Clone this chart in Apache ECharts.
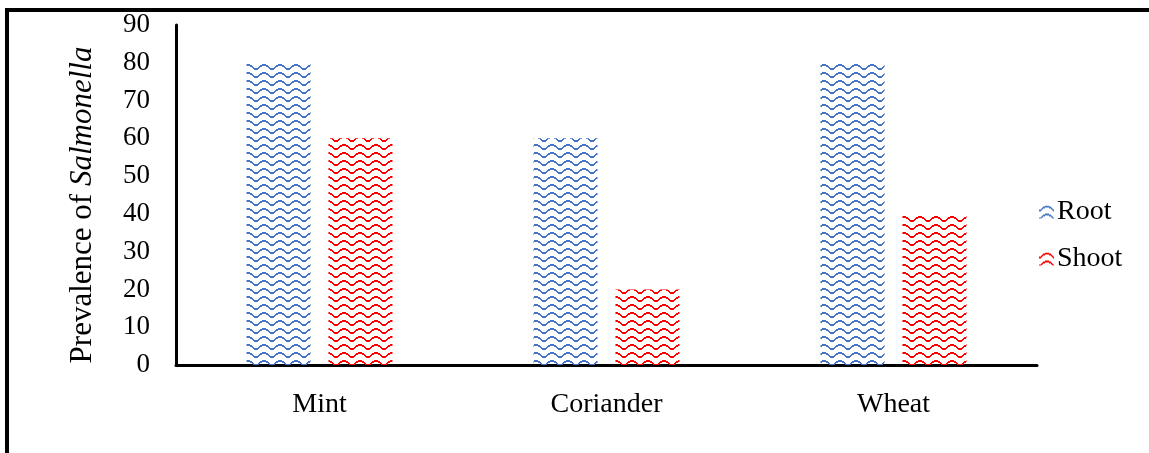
<!DOCTYPE html>
<html>
<head>
<meta charset="utf-8">
<script src="https://cdn.jsdelivr.net/npm/echarts@6/dist/echarts.min.js"></script>
<style>
  html, body { margin: 0; padding: 0; background: #fff; }
  #chart { width: 1149px; height: 453px; }
</style>
</head>
<body>
<div id="chart"></div>
<script>
// Crops and the share of samples testing positive
const categories = ['Mint', 'Coriander', 'Wheat'];
const rootValues = [80, 60, 80];
const shootValues = [60, 20, 40];
const seriesNames = ['Root', 'Shoot'];
const yTicks = { min: 0, max: 90, interval: 10 };

const FONT = '"Liberation Serif", "Times New Roman", serif';

// Wave hatch, one 16x8 px tile: [x, y, w, h] blocks of a stepped wave
const WAVE_STEPS = [
  [6, 0, 4, 2], [4, 1, 2, 2], [10, 1, 2, 2], [3, 2, 1, 2], [12, 2, 1, 2],
  [2, 3, 1, 2], [13, 3, 1, 2], [14, 4, 2, 2], [0, 4, 2, 2]
];
function wavePattern(color) {
  const c = document.createElement('canvas');
  c.width = 16; c.height = 8;
  const g = c.getContext('2d');
  g.fillStyle = color;
  WAVE_STEPS.forEach(([x, y, w, h]) => g.fillRect(x, y, w, h));
  return { image: c, repeat: 'repeat' };
}

const blue = wavePattern('#4472C4');
const red = wavePattern('#FF0000');

const chart = echarts.init(document.getElementById('chart'), null, { renderer: 'canvas' });

chart.setOption({
  animation: false,
  backgroundColor: '#fff',
  grid: { left: 176, right: 112, top: 25, bottom: 88 },
  legend: {
    orient: 'vertical',
    left: 1034,
    top: 193,
    itemWidth: 15,
    itemHeight: 13,
    itemGap: 19,
    icon: 'rect',
    textStyle: { fontFamily: FONT, fontSize: 28, color: '#000', padding: [0, 0, 0, -2] },
    data: seriesNames
  },
  xAxis: {
    type: 'category',
    data: categories,
    axisLine: { lineStyle: { color: '#000', width: 3 } },
    axisTick: { show: false },
    axisLabel: { fontFamily: FONT, fontSize: 28, color: '#000', margin: 26 }
  },
  yAxis: {
    type: 'value',
    min: yTicks.min,
    max: yTicks.max,
    interval: yTicks.interval,
    splitLine: { show: false },
    axisLine: { show: true, lineStyle: { color: '#000', width: 3 } },
    axisTick: { show: false },
    axisLabel: { fontFamily: FONT, fontSize: 27, color: '#000', margin: 26 }
  },
  series: [
    {
      name: seriesNames[0], type: 'bar', data: rootValues,
      barWidth: 64, barGap: '28%',
      itemStyle: { color: blue }
    },
    {
      name: seriesNames[1], type: 'bar', data: shootValues,
      barWidth: 64,
      itemStyle: { color: red }
    }
  ],
  graphic: [
    // frame edges
    { type: 'rect', shape: { x: 5, y: 8, width: 1200, height: 4 }, style: { fill: '#000' }, silent: true },
    { type: 'rect', shape: { x: 5, y: 8, width: 4, height: 500 }, style: { fill: '#000' }, silent: true },
    // y-axis title
    {
      type: 'text',
      x: 83, y: 205,
      rotation: Math.PI / 2,
      style: {
        text: '{a|Prevalence of }{b|Salmonella}',
        align: 'center',
        verticalAlign: 'middle',
        rich: {
          a: { fontFamily: FONT, fontSize: 31, fill: '#000' },
          b: { fontFamily: FONT, fontSize: 31, fontStyle: 'italic', fill: '#000' }
        }
      }
    }
  ]
});
</script>
</body>
</html>
